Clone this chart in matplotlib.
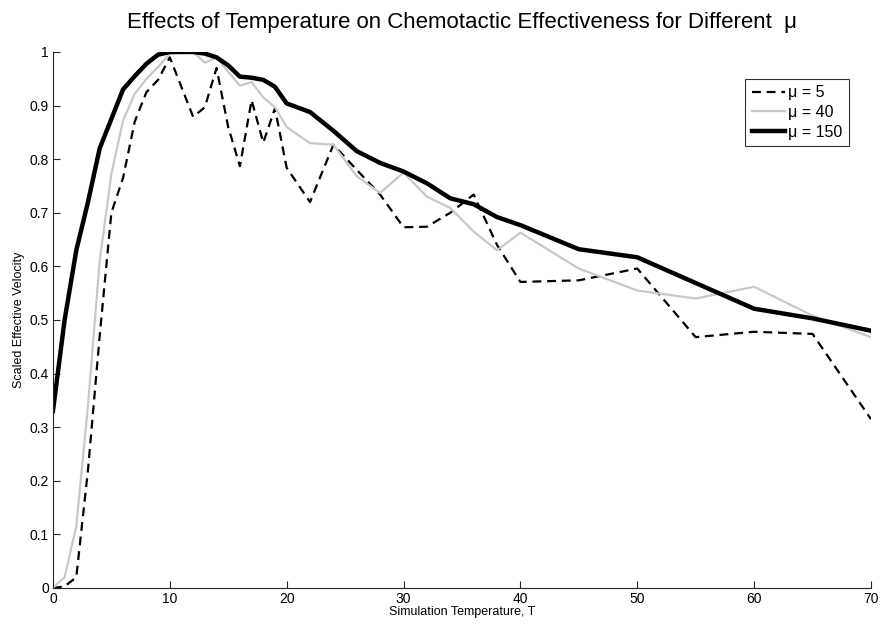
import matplotlib
matplotlib.use("Agg")
import matplotlib.pyplot as plt

T5 = [0, 1, 2, 3, 4, 5, 6, 7, 8, 9, 10, 12, 13, 14, 15, 16, 17, 18, 19, 20,
      22, 24, 26, 28, 30, 32, 34, 36, 38, 40, 45, 50, 55, 60, 65, 70]
V5 = [0.0, 0.003, 0.02, 0.22, 0.47, 0.70, 0.765, 0.87, 0.925, 0.948,
      0.99, 0.879, 0.897, 0.97, 0.86, 0.787, 0.91, 0.831, 0.895, 0.784,
      0.72, 0.827, 0.78, 0.734, 0.673, 0.674, 0.70, 0.734, 0.64, 0.571,
      0.574, 0.596, 0.468, 0.478, 0.474, 0.315]

T40 = [0, 1, 2, 3, 4, 5, 6, 7, 8, 9, 10, 12, 13, 14, 15, 16, 17, 18, 19, 20,
       22, 24, 26, 28, 30, 32, 34, 36, 38, 40, 45, 50, 55, 60, 65, 70]
V40 = [0.0, 0.02, 0.115, 0.34, 0.61, 0.772, 0.872, 0.922, 0.95, 0.972,
       0.997, 1.0, 0.98, 0.99, 0.963, 0.937, 0.944, 0.915, 0.897, 0.86,
       0.83, 0.827, 0.768, 0.737, 0.775, 0.73, 0.709, 0.665, 0.63, 0.663,
       0.596, 0.555, 0.54, 0.562, 0.508, 0.468]

T150 = [0, 1, 2, 3, 4, 6, 7, 8, 9, 10, 12, 13, 14, 15, 16, 17, 18, 19, 20,
        22, 24, 26, 28, 30, 32, 34, 36, 38, 40, 45, 50, 60, 65, 70]
V150 = [0.33, 0.50, 0.63, 0.72, 0.82, 0.93, 0.955, 0.978, 0.995, 1.0,
        1.0, 0.997, 0.99, 0.975, 0.954, 0.952, 0.948, 0.935, 0.904,
        0.888, 0.853, 0.815, 0.793, 0.777, 0.755, 0.727, 0.716, 0.692, 0.677,
        0.632, 0.617, 0.521, 0.503, 0.48]

LABELS = ["\u03bc = 5", "\u03bc = 40", "\u03bc = 150"]
XTICKS = [0, 10, 20, 30, 40, 50, 60, 70]
YTICKS = [0, 0.1, 0.2, 0.3, 0.4, 0.5, 0.6, 0.7, 0.8, 0.9, 1]
YTICKLABELS = ["0", "0.1", "0.2", "0.3", "0.4", "0.5", "0.6", "0.7", "0.8", "0.9", "1"]

plt.rcParams['font.family'] = ['Liberation Sans', 'DejaVu Sans']

fig = plt.figure(figsize=(8.82, 6.24), dpi=100)
ax = fig.add_axes([0.060, 0.0577, 0.9275, 0.859])

ax.plot(T5, V5, color='black', lw=1.6, linestyle=(0, (4, 2.6)), label=LABELS[0])
ax.plot(T40, V40, color='#c8c8c8', lw=1.6, label=LABELS[1])
ax.plot(T150, V150, color='black', lw=3.2, label=LABELS[2], solid_joinstyle='round')

ax.set_xlim(0, 70)
ax.set_ylim(0, 1)
ax.set_xticks(XTICKS)
ax.set_yticks(YTICKS)
ax.set_yticklabels(YTICKLABELS)
ax.tick_params(direction='in', length=5, labelsize=10, width=0.8, colors='#262626',
               labelcolor='black', pad=3)
for s in ['top', 'right']:
    ax.spines[s].set_visible(False)
for s in ['left', 'bottom']:
    ax.spines[s].set_color('#262626')
    ax.spines[s].set_linewidth(0.8)

ax.set_xlabel("Simulation Temperature, T", fontsize=9, labelpad=0)
ax.set_ylabel("Scaled Effective Velocity", fontsize=9, labelpad=3)
ax.set_title("Effects of Temperature on Chemotactic Effectiveness for Different  \u03bc",
             fontsize=16, pad=17)

leg = ax.legend(loc='upper right', bbox_to_anchor=(0.973, 0.95), borderaxespad=0,
                fontsize=11.5, frameon=True, fancybox=False, handlelength=2.1,
                handletextpad=0.2, labelspacing=0.3, borderpad=0.4)
leg.get_frame().set_edgecolor('black')
leg.get_frame().set_linewidth(0.8)

fig.savefig("out.png", dpi=100)
